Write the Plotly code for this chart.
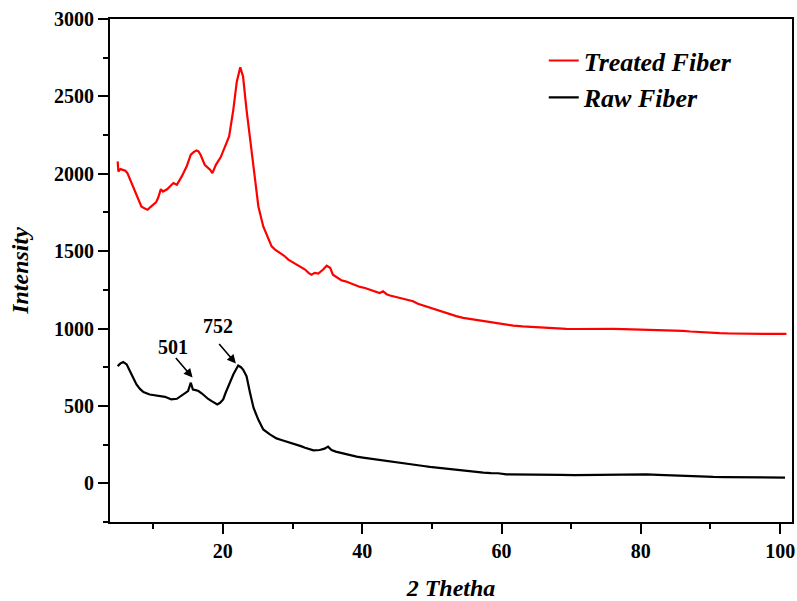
import plotly.graph_objects as go

# ---- data ----
red_x = [4.9, 5.0, 5.3, 5.7, 6.0, 6.3, 6.9, 7.6, 8.3, 8.8, 9.2, 9.6, 10.0, 10.4, 10.7, 11.0, 11.1, 11.4, 11.7, 12.0,
         12.4, 12.9, 13.4, 13.7, 14.1, 14.8, 15.4, 15.8, 16.2, 16.5, 16.8, 17.4, 17.9, 18.2, 18.5, 19.0, 19.7, 20.3,
         20.9, 21.5, 22.0, 22.5, 22.9, 23.4, 23.9, 24.5, 25.1, 25.8, 26.5, 27.0, 27.5, 28.2, 28.8, 29.4, 30.0, 30.6,
         31.2, 31.8, 32.3, 32.7, 33.2, 33.7, 34.1, 34.4, 34.9, 35.4, 35.8, 36.4, 37.0, 37.6, 38.2, 39.0, 39.7, 40.4,
         41.1, 41.8, 42.5, 43.0, 43.5, 44.0, 44.7, 45.4, 46.0, 46.6, 47.3, 48.0, 48.8, 49.7, 50.7, 51.6, 52.6, 53.5,
         54.5, 55.7, 56.9, 58.8, 60.2, 61.7, 63.0, 64.1, 65.3, 66.5, 68.0, 69.3, 70.7, 72.2, 74.0, 76.0, 77.5, 78.9,
         80.3, 81.8, 83.2, 84.7, 86.0, 87.1, 88.5, 89.9, 91.3, 92.8, 94.0, 95.2, 96.6, 98.1, 99.5, 100.9]
red_y = [2080, 2015, 2030, 2026, 2020, 2004, 1940, 1854, 1789, 1775, 1768, 1785, 1800, 1815, 1843, 1880, 1901, 1885,
         1892, 1900, 1918, 1940, 1929, 1950, 1983, 2047, 2123, 2140, 2150, 2145, 2123, 2058, 2036, 2025, 2004, 2058,
         2108, 2176, 2241, 2413, 2595, 2688, 2628, 2413, 2219, 1983, 1789, 1660, 1585, 1531, 1510, 1488, 1470, 1445,
         1430, 1413, 1395, 1381, 1360, 1348, 1360, 1355, 1370, 1381, 1406, 1392, 1348, 1330, 1312, 1305, 1295, 1280,
         1269, 1262, 1252, 1240, 1230, 1241, 1222, 1213, 1205, 1198, 1195, 1187, 1176, 1160, 1148, 1133, 1118, 1104,
         1090, 1080, 1069, 1060, 1052, 1037, 1028, 1019, 1014, 1011, 1006, 1002, 1000, 998, 997, 998, 997, 998, 996,
         994, 995, 994, 991, 989, 985, 981, 976, 972, 970, 968, 967, 966, 967, 968, 965, 966]

raw_x = [4.9, 5.3, 5.7, 6.2, 6.9, 7.6, 8.1, 8.6, 9.5, 10.1, 10.7, 11.2, 11.7, 12.2, 12.6, 13.4, 13.9, 14.3, 14.7,
         15.0, 15.4, 15.7, 16.1, 16.5, 17.0, 17.4, 17.9, 18.4, 18.8, 19.2, 19.6, 20.05, 20.4, 20.8, 21.5, 22.2, 22.6,
         22.9, 23.4, 23.9, 24.4, 25.1, 25.8, 26.75, 27.7, 28.4, 29.15, 29.9, 30.6, 31.2, 31.8, 32.4, 33.0, 33.9, 34.6,
         35.1, 35.6, 36.2, 36.8, 37.5, 38.2, 39.2, 40.1, 41.1, 42.1, 43.0, 44.0, 44.9, 45.9, 46.6, 47.3, 48.0, 48.8,
         49.7, 50.7, 51.6, 52.6, 53.8, 55.0, 56.2, 57.4, 58.5, 59.5, 60.7, 62.5, 64.5, 66.5, 68.5, 70.5, 72.0, 73.7,
         75.5, 77.5, 79.0, 80.8, 82.5, 84.0, 85.6, 87.5, 89.0, 90.4, 92.0, 93.6, 95.2, 97.0, 98.8, 100.7]
raw_y = [757, 775, 783, 768, 703, 639, 610, 589, 574, 570, 568, 565, 559, 550, 542, 546, 560, 574, 585, 596, 650, 606,
         602, 596, 580, 563, 545, 531, 518, 510, 520, 542, 585, 628, 703, 761, 750, 735, 692, 585, 488, 410, 348, 316,
         290, 280, 270, 262, 252, 240, 230, 220, 213, 215, 224, 237, 215, 205, 198, 190, 181, 172, 166, 160, 155, 148,
         142, 138, 134, 128, 123, 118, 112, 106, 101, 95, 90, 84, 79, 74, 69, 66, 65, 58, 56, 54, 52, 54, 53, 54, 54,
         56, 57, 58, 58, 55, 52, 47, 44, 43, 41, 40, 39, 37, 38, 37, 37]

peak_labels = ["501", "752"]
peak_x = [15.65, 21.87]
peak_y = [684, 774]

FONT = "Liberation Serif"
label_offsets = [(-20, 30), (-18, 38)]  # pixel offsets of peak labels from arrow heads

fig = go.Figure()
fig.add_trace(go.Scatter(x=red_x, y=red_y, mode="lines", name="Treated Fiber",
                         line=dict(color="#ff0000", width=2.2)))
fig.add_trace(go.Scatter(x=raw_x, y=raw_y, mode="lines", name="Raw Fiber",
                         line=dict(color="#000000", width=2.2)))

for lab, px, py, (dx, dy) in zip(peak_labels, peak_x, peak_y, label_offsets):
    fig.add_annotation(x=px, y=py, xref="x", yref="y", text="", showarrow=True,
                       ax=-18, ay=-21, arrowhead=2, arrowsize=1.1, arrowwidth=1.6,
                       arrowcolor="black")
    fig.add_annotation(x=px, y=py, xref="x", yref="y", text=lab, showarrow=False,
                       xshift=dx, yshift=dy,
                       font=dict(family=FONT, size=20, color="black", weight="bold"))

axis_common = dict(showline=True, linecolor="black", linewidth=2, mirror=True,
                   ticks="outside", ticklen=10, tickwidth=2, tickcolor="black",
                   showgrid=False, zeroline=False, automargin=False,
                   tickfont=dict(family=FONT, size=20, color="black", weight="bold"))

fig.update_xaxes(range=[3.8, 101.7], dtick=20, tick0=0,
                 minor=dict(dtick=10, ticks="outside", ticklen=5, tickwidth=2, tickcolor="black"),
                 title=dict(text="2 Thetha", standoff=19,
                            font=dict(family=FONT, size=24, color="black", weight="bold", style="italic")),
                 **axis_common)
fig.update_yaxes(range=[-250, 3000], dtick=500, tick0=0,
                 minor=dict(dtick=250, ticks="outside", ticklen=5, tickwidth=2, tickcolor="black"),
                 title=dict(text="Intensity", standoff=19,
                            font=dict(family=FONT, size=24, color="black", weight="bold", style="italic")),
                 **axis_common)

fig.update_layout(
    width=797, height=601,
    margin=dict(l=110, r=5, t=19, b=79),
    paper_bgcolor="white", plot_bgcolor="white",
    showlegend=True,
    legend=dict(x=0.636, y=0.964, xanchor="left", yanchor="top",
                bgcolor="rgba(0,0,0,0)", borderwidth=0,
                font=dict(family=FONT, size=26, color="black", weight="bold", style="italic"),
                tracegroupgap=0),
)

# remove the default 8px page margin so the 797x601 figure fills the window exactly
fig.write_html("out.html", config={"displayModeBar": False},
               post_script="document.body.style.margin='0';document.body.style.overflow='hidden';")
